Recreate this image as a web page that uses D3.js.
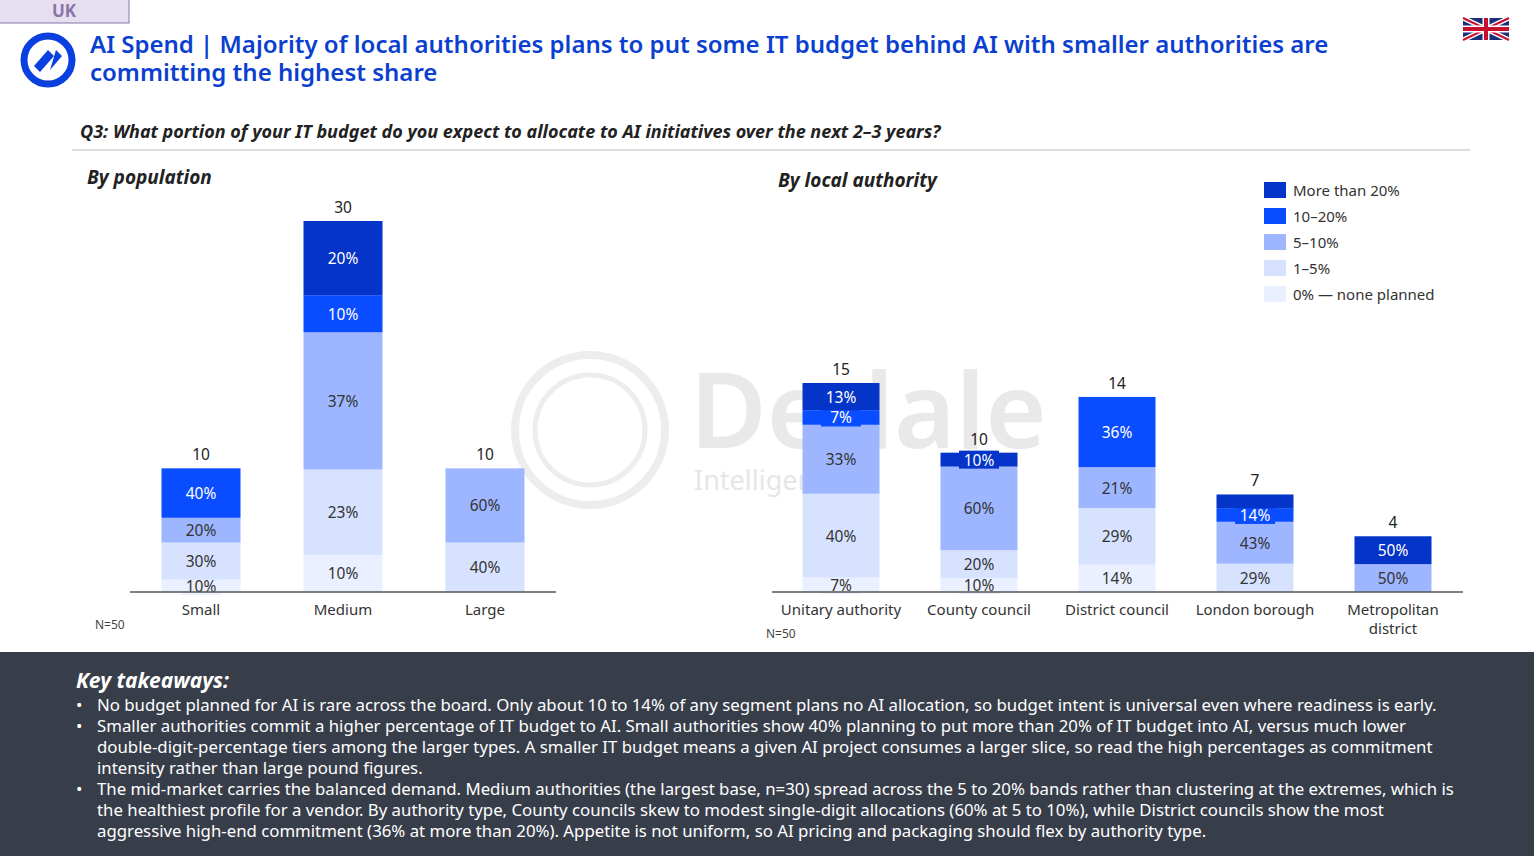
<!DOCTYPE html>
<html><head><meta charset="utf-8">
<script src="https://cdn.jsdelivr.net/npm/d3@7"></script>
<style>
body{margin:0;background:#fff;font-family:"IBM Plex Sans","Noto Sans",sans-serif;}
svg text{font-family:"Noto Sans",sans-serif;}
</style></head><body>
<svg id="c" width="1534" height="856"></svg>
<script>
// bands, darkest last (stack from bottom)
var bands = ["0% — none planned","1–5%","5–10%","10–20%","More than 20%"];
var colors = ["#eaf0ff","#d7e2ff","#9db6ff","#0a4cff","#0534c8"];
var textCol = ["#333","#333","#333","#fff","#fff"];

var popCats = ["Small","Medium","Large"];
var popN = [10,30,10];
var popPct = [[10,30,20,40,0],[10,23,37,10,20],[0,40,60,0,0]];

var laCats = ["Unitary authority","County council","District council","London borough","Metropolitan district"];
var laN = [15,10,14,7,4];
var laPct = [[7,40,33,7,13],[10,20,60,0,10],[14,29,21,36,0],[0,29,43,14,14],[0,0,50,0,50]];
var laHide = [[],[],[],[4],[]];

var svg = d3.select("#c");

// header
svg.append("rect").attr("x",-1).attr("y",-1).attr("width",130).attr("height",24).attr("fill","#e6dff0").attr("stroke","#8a74a8");
svg.append("text").attr("x",64).attr("y",17).attr("text-anchor","middle").attr("font-size",17).attr("font-weight",700).attr("fill","#8a74a8").text("UK");
var logo = svg.append("g").attr("transform","translate(48,60)");
logo.append("circle").attr("r",24).attr("fill","none").attr("stroke","#0a3fe0").attr("stroke-width",7);
logo.append("path").attr("d","M-14,6 L0,-10 L6,-4 L-8,12 Z M2,10 L14,-4 L8,-10 Z").attr("fill","#0a3fe0");
svg.append("text").attr("x",90).attr("y",53).attr("font-size",24).attr("font-weight",600).attr("fill","#0a3fd0")
  .text("AI Spend | Majority of local authorities plans to put some IT budget behind AI with smaller authorities are");
svg.append("text").attr("x",90).attr("y",81).attr("font-size",24).attr("font-weight",600).attr("fill","#0a3fd0").text("committing the highest share");
// flag
var f = svg.append("g").attr("transform","translate(1463,18)");
f.append("rect").attr("width",46).attr("height",22).attr("fill","#1a2f7a");
f.append("path").attr("d","M0,0L46,22M46,0L0,22").attr("stroke","#fff").attr("stroke-width",5);
f.append("path").attr("d","M0,0L46,22M46,0L0,22").attr("stroke","#c8102e").attr("stroke-width",2);
f.append("path").attr("d","M23,0V22M0,11H46").attr("stroke","#fff").attr("stroke-width",7);
f.append("path").attr("d","M23,0V22M0,11H46").attr("stroke","#c8102e").attr("stroke-width",4);

svg.append("text").attr("x",80).attr("y",138).attr("font-size",18).attr("font-weight",700).attr("font-style","italic").attr("fill","#222")
  .text("Q3: What portion of your IT budget do you expect to allocate to AI initiatives over the next 2–3 years?");
svg.append("line").attr("x1",72).attr("x2",1470).attr("y1",150).attr("y2",150).attr("stroke","#bbb");
svg.append("text").attr("x",87).attr("y",184).attr("font-size",19).attr("font-weight",700).attr("font-style","italic").attr("fill","#222").text("By population");
svg.append("text").attr("x",778).attr("y",187).attr("font-size",19).attr("font-weight",700).attr("font-style","italic").attr("fill","#222").text("By local authority");

// watermark
svg.append("circle").attr("cx",590).attr("cy",430).attr("r",75).attr("fill","none").attr("stroke","#ededed").attr("stroke-width",8);
svg.append("circle").attr("cx",590).attr("cy",430).attr("r",55).attr("fill","none").attr("stroke","#ededed").attr("stroke-width",5);
svg.append("text").attr("x",690).attr("y",448).attr("font-size",105).attr("font-weight",600).attr("fill","#e9e9e9").text("Dedale");
svg.append("text").attr("x",694).attr("y",490).attr("font-size",27).attr("fill","#e6e6e6").text("Intelligence");

function drawChart(cats, ns, pcts, x0, x1, centers, bw, pxPerUnit, hide) {
  var base = 592;
  var x = d3.scalePoint().domain(cats).range([centers[0], centers[centers.length-1]]);
  var y = d3.scaleLinear().domain([0,1]).range([base, base - pxPerUnit]);
  var g = svg.append("g");
  cats.forEach(function(c,i){
    var cum = 0;
    pcts[i].forEach(function(p,j){
      if(!p) return;
      var v0 = cum, v1 = cum + ns[i]*p/100; cum = v1;
      var yt = y(v1), yb = y(v0);
      g.append("rect").attr("x",x(c)-bw/2).attr("y",yt).attr("width",bw).attr("height",yb-yt).attr("fill",colors[j]);
      if(hide[i] && hide[i].indexOf(j)>=0) return;
      var h = yb-yt, cy = (yt+yb)/2;
      if(h < 22){
        g.append("rect").attr("x",x(c)-20).attr("y",cy-9).attr("width",40).attr("height",18).attr("fill",colors[j]);
      }
      g.append("text").attr("x",x(c)).attr("y",cy+6).attr("text-anchor","middle").attr("font-size",15.5).attr("fill",textCol[j]).text(p+"%");
    });
    g.append("text").attr("x",x(c)).attr("y",y(ns[i])-8).attr("text-anchor","middle").attr("font-size",15.5).attr("fill","#222").text(ns[i]);
  });
  g.append("line").attr("x1",x0).attr("x2",x1).attr("y1",base).attr("y2",base).attr("stroke","#555").attr("stroke-width",1.5);
  cats.forEach(function(c){
    if(c==="Metropolitan district"){
      g.append("text").attr("x",x(c)).attr("y",615).attr("text-anchor","middle").attr("font-size",15).attr("fill","#333").text("Metropolitan");
      g.append("text").attr("x",x(c)).attr("y",634).attr("text-anchor","middle").attr("font-size",15).attr("fill","#333").text("district");
    } else {
      g.append("text").attr("x",x(c)).attr("y",615).attr("text-anchor","middle").attr("font-size",15).attr("fill","#333").text(c);
    }
  });
}
drawChart(popCats, popN, popPct, 130, 556, [201,485], 79, 371/30, []);
drawChart(laCats, laN, laPct, 772, 1463, [841,1393], 77, 209/15, laHide);
svg.append("text").attr("x",95).attr("y",629).attr("font-size",12).attr("fill","#444").text("N=50");
svg.append("text").attr("x",766).attr("y",638).attr("font-size",12).attr("fill","#444").text("N=50");

// legend
var lg = svg.append("g").attr("transform","translate(1264,182)");
bands.slice().reverse().forEach(function(b,i){
  var j = bands.length-1-i;
  lg.append("rect").attr("x",0).attr("y",i*26).attr("width",22).attr("height",16).attr("fill",colors[j]);
  lg.append("text").attr("x",29).attr("y",i*26+14).attr("font-size",15).attr("fill","#333").text(b);
});

// takeaways
svg.append("rect").attr("x",0).attr("y",652).attr("width",1534).attr("height",204).attr("fill","#383d4a");
svg.append("text").attr("x",76).attr("y",688).attr("font-size",21).attr("font-weight",700).attr("font-style","italic").attr("fill","#fff").text("Key takeaways:");
var lines = [
 [1,"No budget planned for AI is rare across the board. Only about 10 to 14% of any segment plans no AI allocation, so budget intent is universal even where readiness is early."],
 [1,"Smaller authorities commit a higher percentage of IT budget to AI. Small authorities show 40% planning to put more than 20% of IT budget into AI, versus much lower"],
 [0,"double-digit-percentage tiers among the larger types. A smaller IT budget means a given AI project consumes a larger slice, so read the high percentages as commitment"],
 [0,"intensity rather than large pound figures."],
 [1,"The mid-market carries the balanced demand. Medium authorities (the largest base, n=30) spread across the 5 to 20% bands rather than clustering at the extremes, which is"],
 [0,"the healthiest profile for a vendor. By authority type, County councils skew to modest single-digit allocations (60% at 5 to 10%), while District councils show the most"],
 [0,"aggressive high-end commitment (36% at more than 20%). Appetite is not uniform, so AI pricing and packaging should flex by authority type."]
];
lines.forEach(function(l,i){
  var yy = 711 + i*21;
  if(l[0]) svg.append("text").attr("x",76).attr("y",yy).attr("font-size",17).attr("fill","#fff").text("•");
  svg.append("text").attr("x",97).attr("y",yy).attr("font-size",16.8).attr("fill","#fff").text(l[1]);
});
</script>
</body></html>
